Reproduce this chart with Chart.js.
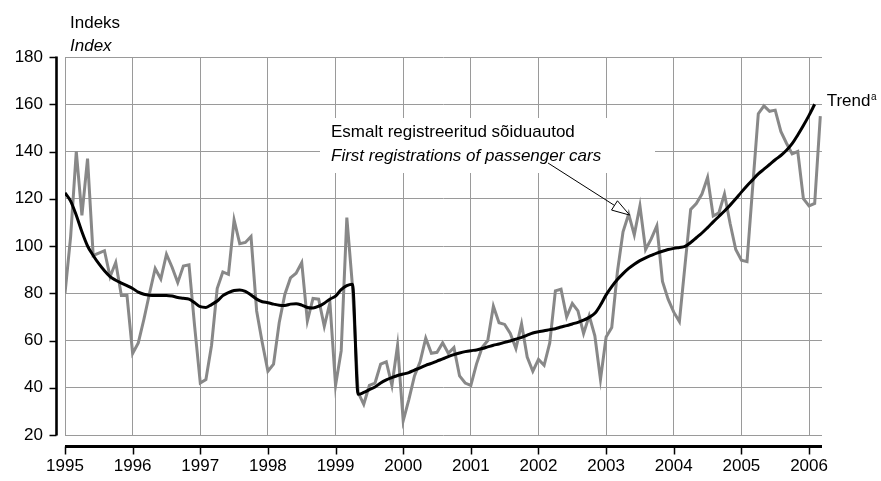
<!DOCTYPE html>
<html lang="et">
<head>
<meta charset="UTF-8" />
<title>Esmalt registreeritud sõiduautod</title>
<script src="https://cdn.jsdelivr.net/npm/chart.js"></script>
<style>
  html, body { margin: 0; padding: 0; background: #fff; }
  canvas { display: block; }
</style>
</head>
<body>
<canvas id="myChart" width="881" height="481"></canvas>
<script>
  // Kuuandmed: jaanuar 1995 ... märts 2006 (indeks)
  const years = ["1995", "1996", "1997", "1998", "1999", "2000",
                 "2001", "2002", "2003", "2004", "2005", "2006"];
  const yTicks = [20, 40, 60, 80, 100, 120, 140, 160, 180];

  // Esmalt registreeritud sõiduautod
  const registrations = [
    80, 104, 140, 113, 137, 96, 97, 98, 87, 93, 79, 79,
    54.5, 59, 69, 80, 90.5, 86, 96.5, 91, 84.5, 91.5, 92, 66,
    42, 43.5, 58, 82, 89, 88, 111, 101, 101.5, 104, 72.5, 59,
    47, 50, 67.5, 79.5, 86.5, 88.5, 93, 68.3, 77.8, 77.5, 66, 76,
    41, 55.6, 112, 83, 38, 33, 41, 42, 50, 51, 41, 58,
    26, 35, 45, 51, 61, 54.6, 55, 59, 54.6, 57, 45, 42,
    41, 50, 57, 60, 74.5, 67.5, 66.8, 63, 56.6, 67, 53, 47,
    52, 49.5, 59, 81, 81.7, 70, 75.7, 72.5, 63, 70.5, 62, 43.5,
    61.5, 65.5, 89, 106, 113.5, 104.7, 117, 98.5, 103, 108.5, 85, 77.5,
    72, 68, 92, 115.5, 118, 122, 129, 112.7, 114, 122, 109.5, 98.5,
    94, 93.4, 125, 156, 159.3, 157, 157.5, 148.5, 143.5, 139, 140, 120,
    117, 118, 155
  ];

  // Trend (viimase kuu väärtus puudub)
  const trend = [
    122.5, 119, 113, 106, 100, 96, 92.5, 89.5, 87, 85.5, 84.3, 83.2,
    82, 80.5, 79.6, 79.2, 79.1, 79.1, 79.1, 78.8, 78.2, 77.9, 77.5, 76,
    74.3, 74, 75.2, 76.7, 79, 80.3, 81.2, 81.4, 80.8, 79.3, 77.5, 76.4,
    76, 75.4, 74.9, 74.8, 75.4, 75.6, 75, 74, 73.8, 74.5, 75.8, 77.5,
    78.8, 81.5, 83.2, 83.8, 37.2, 38, 39.2, 40.3, 42, 43.3, 44.3, 45.2,
    45.8, 46.4, 47.5, 48.4, 49.5, 50.3, 51.3, 52.2, 53.2, 54, 54.7, 55.3,
    55.7, 56, 56.6, 57.3, 58, 58.5, 59.2, 59.8, 60.6, 61.3, 62.3, 63.2,
    63.7, 64.1, 64.6, 65, 65.7, 66.3, 67, 67.7, 68.6, 69.8, 71.5, 75,
    79.3, 82.8, 85.8, 88.3, 90.5, 92.3, 93.8, 95, 96, 97, 97.8, 98.5,
    99, 99.4, 99.8, 101.5, 103.5, 105.5, 107.8, 110.2, 112.5, 114.8, 117.3, 120,
    122.8, 125.5, 128, 130.5, 132.5, 134.5, 136.5, 138.3, 140.5, 143.3, 147, 151,
    155.3, 160, null
  ];

  const arrowMonth = 100; // noole ots: mai 2003

  const FONT = "'Liberation Sans', Arial, Helvetica, sans-serif";
  Chart.defaults.font.family = FONT;
  Chart.defaults.font.size = 17;
  Chart.defaults.color = "#000";

  const toPoints = (arr) => arr.map((v, i) => ({ x: i, y: v }));

  // Teljed on joonisest veidi eemal, nagu Exceli graafikul
  const offsetAxes = {
    id: "offsetAxes",
    afterDraw(chart) {
      const { ctx, chartArea, scales } = chart;
      const xs = scales.x, ys = scales.y;
      const axX = chartArea.left - 8.5;
      const axY = chartArea.bottom + 11.5;

      ctx.save();
      ctx.strokeStyle = "#000";
      ctx.lineCap = "butt";

      ctx.lineWidth = 2.6;
      ctx.beginPath();
      ctx.moveTo(axX, chartArea.top - 0.5);
      ctx.lineTo(axX, chartArea.bottom + 0.5);
      ctx.stroke();

      ctx.lineWidth = 1.5;
      ys.ticks.forEach((t) => {
        const py = Math.round(ys.getPixelForValue(t.value)) + 0.5;
        ctx.beginPath();
        ctx.moveTo(axX - 7, py);
        ctx.lineTo(axX, py);
        ctx.stroke();
      });

      ctx.lineWidth = 3;
      ctx.beginPath();
      ctx.moveTo(chartArea.left, axY);
      ctx.lineTo(chartArea.right, axY);
      ctx.stroke();

      ctx.lineWidth = 1.5;
      xs.ticks.forEach((t) => {
        const px = Math.round(xs.getPixelForValue(t.value)) + 0.5;
        ctx.beginPath();
        ctx.moveTo(px, axY);
        ctx.lineTo(px, axY + 8);
        ctx.stroke();
      });

      // telje pealkiri
      ctx.fillStyle = "#000";
      ctx.textAlign = "left";
      ctx.textBaseline = "alphabetic";
      ctx.font = `17px ${FONT}`;
      ctx.fillText("Indeks", 70, 28);
      ctx.font = `italic 17px ${FONT}`;
      ctx.fillText("Index", 70, 51);

      // seeria silt valgel taustal
      ctx.fillStyle = "#fff";
      ctx.fillRect(320, 118, 335, 55);
      ctx.fillStyle = "#000";
      ctx.font = `17px ${FONT}`;
      ctx.fillText("Esmalt registreeritud sõiduautod", 331, 137);
      ctx.font = `italic 17px ${FONT}`;
      ctx.fillText("First registrations of passenger cars", 331, 160.5);

      // nool sildilt kõverale
      const tipX = xs.getPixelForValue(arrowMonth) + 1;
      const tipY = ys.getPixelForValue(registrations[arrowMonth]) + 1;
      const tailX = 548, tailY = 163;
      const len = Math.hypot(tipX - tailX, tipY - tailY);
      const ux = (tipX - tailX) / len, uy = (tipY - tailY) / len;
      const bx = tipX - ux * 18, by = tipY - uy * 18;
      ctx.lineWidth = 1;
      ctx.beginPath();
      ctx.moveTo(tailX, tailY);
      ctx.lineTo(bx, by);
      ctx.stroke();
      ctx.beginPath();
      ctx.moveTo(tipX, tipY);
      ctx.lineTo(bx - uy * 5.5, by + ux * 5.5);
      ctx.lineTo(bx + uy * 5.5, by - ux * 5.5);
      ctx.closePath();
      ctx.fillStyle = "#fff";
      ctx.fill();
      ctx.stroke();

      // trendi silt viimase punkti juures
      const last = trend.length - 2;
      const lx = xs.getPixelForValue(last) + 12;
      const ly = ys.getPixelForValue(trend[last]) + 2;
      ctx.fillStyle = "#000";
      ctx.font = `17px ${FONT}`;
      ctx.fillText("Trend", lx, ly);
      const w = ctx.measureText("Trend").width;
      ctx.font = `10px ${FONT}`;
      ctx.fillText("a", lx + w + 0.5, ly - 6);
      ctx.restore();
    }
  };

  new Chart(document.getElementById("myChart"), {
    type: "line",
    data: {
      datasets: [
        {
          label: "Trend",
          data: toPoints(trend),
          borderColor: "#000",
          borderWidth: 3,
          pointRadius: 0,
          cubicInterpolationMode: "monotone",
          spanGaps: false
        },
        {
          label: "Esmalt registreeritud sõiduautod",
          data: toPoints(registrations),
          borderColor: "#888888",
          borderWidth: 3,
          pointRadius: 0,
          tension: 0
        }
      ]
    },
    options: {
      responsive: false,
      animation: false,
      events: [],
      layout: { padding: { top: 57, right: 59, bottom: 0, left: 0 } },
      plugins: {
        legend: { display: false },
        tooltip: { enabled: false }
      },
      scales: {
        x: {
          type: "linear",
          min: 0,
          max: 134.3,
          afterBuildTicks: (scale) => {
            scale.ticks = years.map((_, k) => ({ value: k * 12 }));
          },
          afterFit: (scale) => { scale.height = 46; },
          ticks: {
            callback: (value) => years[Math.round(value / 12)],
            autoSkip: false,
            maxRotation: 0,
            padding: 21,
            font: { size: 17 }
          },
          grid: { color: "#9a9a9a", lineWidth: 1, drawTicks: false },
          border: { display: false }
        },
        y: {
          min: 20,
          max: 180,
          afterBuildTicks: (scale) => {
            scale.ticks = yTicks.map((v) => ({ value: v }));
          },
          afterFit: (scale) => { scale.width = 65; },
          ticks: { padding: 22, font: { size: 17 } },
          grid: { color: "#9a9a9a", lineWidth: 1, drawTicks: false },
          border: { display: false }
        }
      }
    },
    plugins: [offsetAxes]
  });
</script>
</body>
</html>
